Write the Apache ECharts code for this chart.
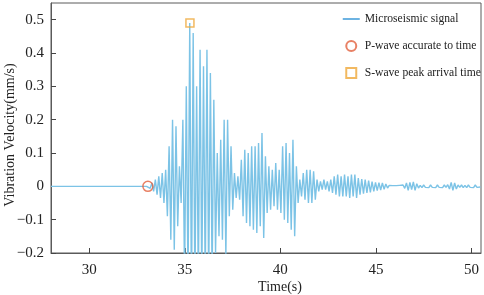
<!DOCTYPE html>
<html>
<head>
<meta charset="utf-8">
<script src="https://cdn.jsdelivr.net/npm/echarts@6/dist/echarts.min.js"></script>
<style>
  html, body { margin: 0; padding: 0; background: #fff; }
  #main { width: 484px; height: 295px; }
</style>
</head>
<body>
<div id="main"></div>
<script>
// quiet part before the event
const preEventTime = [28.0, 33.0];
const preEventVelocity = [0, 0];

// recorded waveform, one value every sampleStep seconds from recordStart
const recordStart = 33.1;
const sampleStep = 0.09;
const velocity = [
  0.003, -0.006, 0.01, -0.015, 0.02, -0.025, 0.03, -0.035, 0.04, -0.05, 0.05,
  -0.09, 0.12, -0.16, 0.2, -0.19, 0.18, -0.12, 0.06, -0.05, 0.2, -0.28, 0.3, -0.3,
  0.49, -0.35, 0.46, -0.32, 0.3, -0.3, 0.41, -0.3, 0.36, -0.3, 0.41, -0.3, 0.34, -0.28,
  0.26, -0.2, 0.1, -0.15, 0.14, -0.16, 0.2, -0.21, 0.2, -0.09, 0.12, -0.07,
  0.04, -0.035, 0.03, -0.04, 0.08, -0.09, 0.11, -0.11, 0.1, -0.12, 0.12, -0.13,
  0.12, -0.14, 0.13, -0.12, 0.16, -0.155, 0.09, -0.08, 0.06, -0.07, 0.05, -0.06, 0.07, -0.07,
  0.05, -0.08, 0.12, -0.1, 0.13, -0.11, 0.1, -0.13, 0.14, -0.15, 0.06, -0.05, 0.02, -0.03, 0.04, -0.04,
  0.05, -0.05, 0.05, -0.05, 0.045, -0.04, 0.02, -0.015, 0.015, -0.01, 0.02, -0.01, 0.015, -0.015,
  0.02, -0.02, 0.03, -0.025, 0.035, -0.03, 0.03, -0.03, 0.035, -0.03, 0.03, -0.035, 0.035, -0.03, 0.035, -0.035,
  0.025, -0.025, 0.022, -0.022, 0.02, -0.02, 0.017, -0.018, 0.014, -0.015, 0.012, -0.013, 0.011, -0.011,
  0.01, -0.009, 0.007, -0.005, 0.003, -0.002, 0.002, -0.003, 0.002, -0.002, 0.003, -0.002, 0.004, -0.006, 0.01, -0.012,
  0.012, -0.01, 0.013, -0.012, 0.008, -0.005, 0.003, -0.004, 0.004, -0.003, 0.003, -0.004, 0.004, -0.003,
  0.003, -0.004, 0.004, -0.003, 0.003, -0.004, 0.004, -0.003, 0.005, -0.008, 0.012, -0.012, 0.01, -0.008, 0.004, -0.003,
  0.004, -0.004, 0.003, -0.004, 0.004, -0.003, 0.003, -0.004, 0.004, -0.003, 0.003, -0.002
];

// picked arrivals [time, velocity]
const pWavePick = [33.07, 0];
const sWavePick = [35.27, 0.49];

const xTicks = [30, 35, 40, 45, 50];
const yTicks = [-0.2, -0.1, 0, 0.1, 0.2, 0.3, 0.4, 0.5];

const signalData = [];
for (let i = 0; i < preEventTime.length; i++) {
  signalData.push([preEventTime[i], preEventVelocity[i]]);
}
for (let i = 0; i < velocity.length; i++) {
  signalData.push([+(recordStart + i * sampleStep).toFixed(3), velocity[i]]);
}

const serif = 'Liberation Serif';
const chart = echarts.init(document.getElementById('main'), null, { renderer: 'canvas' });

const option = {
  animation: false,
  backgroundColor: '#fff',
  grid: {
    left: 51, right: 3, top: 3, bottom: 42,
    outerBoundsMode: 'none',
    containLabel: false,
    show: true, borderColor: '#5a5a5a', borderWidth: 1, backgroundColor: 'transparent'
  },
  legend: {
    orient: 'vertical',
    left: 342, top: 13,
    padding: 0,
    itemWidth: 17, itemHeight: 10, itemGap: 15,
    textStyle: { fontFamily: serif, fontSize: 11.6, color: '#222' },
    data: [
      {
        name: 'Microseismic signal',
        itemStyle: { color: 'transparent', borderWidth: 0, opacity: 0 },
        lineStyle: { color: '#3d9ad8', width: 1.5 }
      },
      { name: 'P-wave accurate to time' },
      { name: 'S-wave peak arrival time', icon: 'path://M0,0H10V10H0Z' }
    ]
  },
  xAxis: {
    type: 'value',
    min: 28, max: 50.5,
    name: 'Time(s)',
    nameLocation: 'middle',
    nameGap: 27,
    nameMoveOverlap: false,
    nameTextStyle: { fontFamily: serif, fontSize: 14, color: '#222', padding: [0, 0, 0, 28] },
    axisLine: { onZero: false, lineStyle: { color: '#5a5a5a' } },
    axisTick: { inside: true, length: 5, customValues: xTicks, lineStyle: { color: '#444' } },
    axisLabel: { customValues: xTicks, margin: 10, fontFamily: serif, fontSize: 15, color: '#222' },
    splitLine: { show: false }
  },
  yAxis: {
    type: 'value',
    min: -0.2, max: 0.55,
    name: 'Vibration Velocity(mm/s)',
    nameLocation: 'middle',
    nameGap: 34,
    nameMoveOverlap: false,
    nameTextStyle: { fontFamily: serif, fontSize: 14, color: '#222', padding: [0, 14, 0, 0] },
    axisLine: { onZero: false, lineStyle: { color: '#5a5a5a' } },
    axisTick: { inside: true, length: 5, customValues: yTicks, lineStyle: { color: '#444' } },
    axisLabel: {
      customValues: yTicks, margin: 7, fontFamily: serif, fontSize: 15, color: '#222',
      formatter: function (v) {
        const s = String(Math.round(v * 10) / 10);
        return s.replace('-', '\u2212');
      }
    },
    splitLine: { show: false }
  },
  series: [
    {
      name: 'Microseismic signal',
      type: 'line',
      symbol: 'none',
      clip: true,
      lineStyle: { color: '#7cc3e6', width: 1.4 },
      itemStyle: { color: '#4a9ed6' },
      data: signalData,
      z: 2
    },
    {
      name: 'P-wave accurate to time',
      type: 'scatter',
      symbol: 'circle',
      symbolSize: 10,
      itemStyle: { color: 'transparent', borderColor: '#e2613f', borderWidth: 1.5 },
      data: [pWavePick],
      z: 3
    },
    {
      name: 'S-wave peak arrival time',
      type: 'scatter',
      symbol: 'rect',
      symbolSize: 8,
      itemStyle: { color: 'transparent', borderColor: '#efa73a', borderWidth: 1.5 },
      data: [sWavePick],
      z: 3
    }
  ]
};

chart.setOption(option);
</script>
</body>
</html>
